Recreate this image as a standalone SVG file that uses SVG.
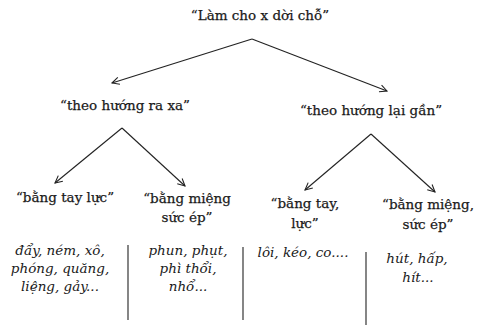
<svg xmlns="http://www.w3.org/2000/svg" width="479" height="325" viewBox="0 0 479 325">
  <style>
    .lbl { font-family: "DejaVu Serif", "Liberation Serif", serif; font-size: 13.5px; fill: #1a1a1a; stroke: #1a1a1a; stroke-width: 0.25; text-anchor: middle; }
    .ex { font-family: "DejaVu Serif", "Liberation Serif", serif; font-style: italic; font-size: 13.5px; fill: #1a1a1a; text-anchor: middle; }
    .edge { stroke: #222; stroke-width: 1.1; fill: none; marker-end: url(#arrow); }
    .sep { stroke: #222; stroke-width: 1.1; }
  </style>
  <defs>
    <marker id="arrow" viewBox="0 0 10 10" refX="9" refY="5" markerWidth="9" markerHeight="9" orient="auto" markerUnits="userSpaceOnUse">
      <path d="M1,1 L9,5 L1,9" fill="none" stroke="#222" stroke-width="1.2"/>
    </marker>
  </defs>
  <rect width="479" height="325" fill="#ffffff"/>

  <g id="connectors">
    <path class="edge" d="M252,39 L112,83"/>
    <path class="edge" d="M252,39 L387,91"/>
    <path class="edge" d="M122,128 L55,183"/>
    <path class="edge" d="M122,128 L185,186"/>
    <path class="edge" d="M371,134 L305,190"/>
    <path class="edge" d="M371,134 L435,192"/>
    <line class="sep" x1="128" y1="245" x2="128" y2="320"/>
    <line class="sep" x1="243" y1="247" x2="243" y2="320"/>
    <line class="sep" x1="366" y1="252" x2="366" y2="325"/>
  </g>

  <g id="root">
    <text class="lbl" x="260" y="20">“Làm cho x dời chỗ”</text>
  </g>
  <g id="away">
    <text class="lbl" x="125" y="110">“theo hướng ra xa”</text>
  </g>
  <g id="toward">
    <text class="lbl" x="371" y="115">“theo hướng lại gần”</text>
  </g>

  <g id="away-hand">
    <text class="lbl" x="65" y="202">“bằng tay lực”</text>
  </g>
  <g id="away-mouth">
    <text class="lbl" x="187" y="203">“bằng miệng</text>
    <text class="lbl" x="187" y="222">sức ép”</text>
  </g>
  <g id="toward-hand">
    <text class="lbl" x="305" y="208">“bằng tay,</text>
    <text class="lbl" x="305" y="228">lực”</text>
  </g>
  <g id="toward-mouth">
    <text class="lbl" x="428" y="209">“bằng miệng,</text>
    <text class="lbl" x="428" y="229">sức ép”</text>
  </g>

  <g id="examples-1">
    <text class="ex" x="60" y="255">đẩy, ném, xô,</text>
    <text class="ex" x="60" y="273">phóng, quăng,</text>
    <text class="ex" x="60" y="291">liệng, gảy...</text>
  </g>
  <g id="examples-2">
    <text class="ex" x="188" y="255">phun, phụt,</text>
    <text class="ex" x="188" y="273">phì thổi,</text>
    <text class="ex" x="188" y="291">nhổ...</text>
  </g>
  <g id="examples-3">
    <text class="ex" x="303" y="257">lôi, kéo, co....</text>
  </g>
  <g id="examples-4">
    <text class="ex" x="417" y="263">hút, hấp,</text>
    <text class="ex" x="418" y="282">hít...</text>
  </g>
</svg>
